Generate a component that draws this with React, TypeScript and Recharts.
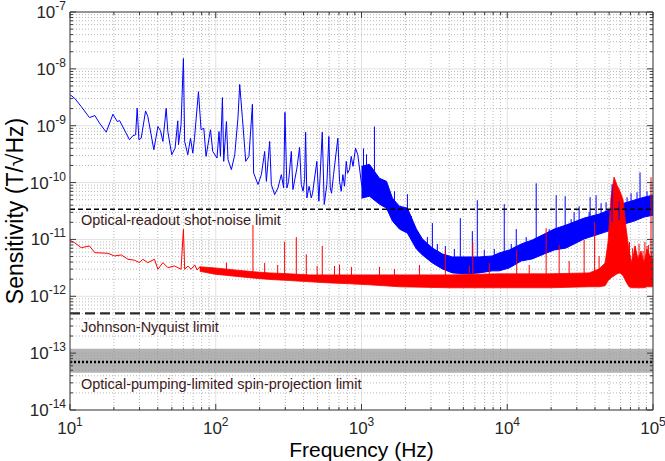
import React from 'react';
import {
  ComposedChart,
  Line,
  Area,
  XAxis,
  YAxis,
  CartesianGrid,
  ReferenceLine,
  ReferenceArea,
} from 'recharts';

// ---------- layout constants ----------
const W = 665;
const H = 461;
const PLOT = { left: 70, right: 653, top: 12, bottom: 410 };
const FONT = '"Liberation Sans", Arial, Helvetica, sans-serif';
const AXIS_COLOR = '#3a3a3a';

// ---------- axes ----------
const xMajor = [10, 100, 1000, 10000, 100000];
const xExpLabels = ['1', '2', '3', '4', '5'];
const yMajor = [1e-14, 1e-13, 1e-12, 1e-11, 1e-10, 1e-9, 1e-8, 1e-7];
const yExpLabels = ['-14', '-13', '-12', '-11', '-10', '-9', '-8', '-7'];
const minorMultipliers = [2, 3, 4, 5, 6, 7, 8, 9];

// ---------- limits ----------
const shotNoiseLimit = 3.4e-11;
const johnsonLimit = 5e-13;
const spinLimit = 7e-14;
const spinBandLow = 4.5e-14;
const spinBandHigh = 1.2e-13;
const limitLabels = [
  'Optical-readout shot-noise limit',
  'Johnson-Nyquist limit',
  'Optical-pumping-limited spin-projection limit',
];

// ---------- blue curve (frequency Hz, sensitivity T/sqrt(Hz)) ----------
const blueTrace: [number, number][] = [
  [10, 3.52e-9], [10.77, 3.03e-9], [11.95, 2.17e-9], [13.6, 1.39e-9], [14.8, 1.51e-9],
  [15.96, 1.106e-9], [17.73, 7.69e-10], [19.7, 1.59e-9], [21.1, 1.185e-9], [21.9, 1.23e-9],
  [25.6, 5.66e-10], [27.0, 6.66e-10], [28.2, 6.93e-10], [28.9, 2.03e-9], [29.7, 5.66e-10],
  [30.8, 6.04e-10], [33.0, 1.82e-9], [34.2, 1.45e-9], [37.6, 3.78e-10], [40.1, 9.68e-10],
  [41.8, 8.14e-10], [43.4, 5.29e-10], [45.7, 2.03e-9], [46.9, 7.91e-10], [49.9, 3.09e-10],
  [52.6, 4.04e-10], [54.9, 1.22e-9], [55.5, 4.63e-10], [57.8, 1.04e-9], [60, 1.52e-8],
  [61.2, 5.29e-10], [64.3, 3.09e-10], [67.1, 6.04e-10], [69.6, 3.3e-10], [71.5, 6.04e-10],
  [76.1, 3.97e-9], [79.3, 8.48e-10], [82.8, 9.04e-10], [85.8, 2.89e-10], [92.0, 8.48e-10],
  [95.4, 3.53e-10], [102, 2.7e-10], [105.3, 7.91e-10], [107.7, 2.89e-10], [111.1, 3.12e-9],
  [113.4, 2.36e-10], [118.4, 1.185e-9], [121.4, 2.53e-10], [128, 1.69e-10], [135, 3.09e-10],
  [142, 1.35e-9], [146, 5.33e-9], [152.4, 1.35e-9], [160.6, 2.36e-10], [169, 2.89e-10],
  [178.4, 2.38e-9], [182, 1.47e-10], [195, 9.23e-11], [205.6, 1.38e-10], [216.6, 3.53e-10],
  [222.5, 1.05e-10], [234.4, 5.29e-10], [240.7, 9.23e-11], [253.6, 6.16e-11], [267.2, 8.04e-11],
  [281.8, 1.38e-10], [292.3, 8.04e-11], [298.4, 1.72e-9], [307.9, 8.04e-11], [316.2, 1.05e-10],
  [330, 3.53e-10], [338.5, 7.54e-11], [360.6, 1.8e-10], [376, 4.15e-10], [386.4, 9.23e-11],
  [397.5, 7.04e-11], [407, 1.14e-10], [413.6, 7.69e-10], [422, 5.37e-11], [436.9, 8.61e-11],
  [452, 5.37e-11], [461.7, 6.49e-11], [476.5, 1.2e-10], [494, 2.36e-10], [510, 4.7e-11],
  [538, 7.69e-10], [555, 4.12e-11], [578.5, 9.23e-11], [597, 6.47e-10], [610.5, 8.04e-11],
  [623, 6.49e-11], [643, 1.38e-10], [688, 6.04e-10], [707, 1.05e-10], [726, 7.04e-11],
  [745, 1.38e-10], [764.7, 8.61e-11], [786, 2.36e-10], [802, 1.46e-10], [828, 1.71e-10],
  [850, 2.89e-10], [874.6, 1.93e-10], [910, 4.04e-10], [943, 3.09e-10], [995, 1.05e-10],
  [1032, 6.16e-11], [1065, 1.2e-10], [1122, 9.23e-11],
];

// blue dense-noise envelope: [frequency, low, high]
const blueBand: [number, number, number][] = [
  [1000, 5.31e-11, 1.93e-10], [1134, 5.76e-11, 2.09e-10], [1328, 4.17e-11, 1.19e-10],
  [1484, 3.55e-11, 1.05e-10], [1631, 2.1e-11, 5.31e-11], [1821, 1.52e-11, 3.85e-11],
  [2066, 1.29e-11, 3.55e-11], [2381, 6.79e-12, 1.52e-11], [2617, 5.33e-12, 1.02e-11],
  [3064, 3.86e-12, 7.07e-12], [3588, 3.03e-12, 5.55e-12], [4202, 2.58e-12, 4.92e-12],
  [5240, 2.48e-12, 4.92e-12], [6430, 2.58e-12, 4.92e-12], [7896, 2.8e-12, 5.12e-12],
  [8813, 2.8e-12, 5.78e-12], [10320, 3.16e-12, 6.52e-12], [12470, 4.18e-12, 8.31e-12],
  [14840, 4.54e-12, 9.76e-12], [17920, 5.55e-12, 1.24e-11], [20990, 6.52e-12, 1.52e-11],
  [25360, 7.07e-12, 1.79e-11], [33690, 1.02e-11, 2.37e-11], [42670, 1.24e-11, 2.79e-11],
  [54070, 1.52e-11, 3.55e-11], [63310, 1.86e-11, 4.34e-11], [74130, 2.1e-11, 4.9e-11],
  [86800, 2.47e-11, 5.53e-11], [100000, 2.67e-11, 5.99e-11],
];

// blue narrow lines: [frequency, foot, peak]
const blueSpikes: [number, number, number][] = [
  [1032, 6e-11, 3.99e-10], [1082, 6e-11, 3.13e-10], [1227, 6e-11, 9.68e-10],
  [1683, 3e-11, 7.04e-11], [2066, 1.8e-11, 6.24e-11], [2200, 1.2e-11, 2.57e-11],
  [2831, 6e-12, 1.1e-11], [3064, 5e-12, 1.94e-11], [3315, 4.5e-12, 8.31e-12],
  [3761, 3.8e-12, 7.66e-12], [4335, 3.5e-12, 6.79e-12], [4765, 3.5e-12, 2.37e-11],
  [5760, 3.5e-12, 1.4e-11], [6232, 3.5e-12, 4.9e-11], [6958, 3.5e-12, 6.52e-12],
  [8147, 3.8e-12, 6.79e-12], [9539, 4e-12, 4.17e-11], [10650, 4.5e-12, 8.31e-12],
  [11530, 4.5e-12, 1.52e-11], [13490, 6e-12, 1.1e-11], [15800, 6e-12, 9.72e-11],
  [19400, 8e-12, 1.52e-11], [21660, 9e-12, 5.99e-11], [24970, 1e-11, 5.76e-11],
  [27440, 1.1e-11, 2.28e-11], [28770, 1.2e-11, 3.02e-11], [31130, 1.3e-11, 3.85e-11],
  [36450, 1.4e-11, 3.02e-11], [37030, 1.5e-11, 5.53e-11], [40700, 1.6e-11, 5.99e-11],
  [44050, 1.7e-11, 4.34e-11], [47650, 1.8e-11, 4.52e-11], [52380, 2e-11, 9.34e-11],
  [58500, 2.2e-11, 4.7e-11], [66370, 2.4e-11, 5.53e-11], [70700, 2.5e-11, 6.49e-11],
  [77700, 2.7e-11, 6.76e-11], [81470, 2.8e-11, 1.51e-10], [90960, 3e-11, 7.04e-11],
];

// ---------- red curve ----------
const redTrace: [number, number][] = [
  [10, 9.64e-12], [10.77, 8.75e-12], [11.95, 7.16e-12], [13.6, 7.66e-12], [14.8, 5.85e-12],
  [18.2, 5.71e-12], [20.2, 5.12e-12], [22.5, 5.33e-12], [25.0, 4.48e-12], [27.7, 4.31e-12],
  [30.0, 3.91e-12], [31.6, 4.48e-12], [34.2, 3.91e-12], [38.0, 4.48e-12], [40.1, 2.99e-12],
  [43.4, 3.91e-12], [46.9, 3.19e-12], [52.1, 3.42e-12], [57.8, 2.99e-12], [60, 1.5e-11],
  [61.2, 2.99e-12], [64.5, 3.4e-12], [67.7, 2.99e-12], [71.8, 3.56e-12], [74.5, 2.9e-12],
  [77.7, 3.3e-12], [80.5, 2.85e-12],
];

const redBand: [number, number, number][] = [
  [77.7, 2.75e-12, 3.3e-12], [98.4, 2.45e-12, 3.16e-12],
  [135, 2.25e-12, 2.91e-12], [185, 2.08e-12, 2.69e-12], [234.4, 1.98e-12, 2.58e-12],
  [321, 1.89e-12, 2.48e-12], [440, 1.8e-12, 2.38e-12], [604, 1.72e-12, 2.38e-12],
  [828, 1.66e-12, 2.38e-12], [1134, 1.59e-12, 2.38e-12], [1821, 1.47e-12, 2.38e-12],
  [4005, 1.41e-12, 2.38e-12], [8813, 1.41e-12, 2.48e-12], [19400, 1.41e-12, 2.48e-12],
  [36450, 1.47e-12, 2.58e-12], [42670, 1.47e-12, 3.03e-12], [46900, 1.53e-12, 3.86e-12],
  [49180, 1.87e-12, 9e-12], [51540, 2.11e-12, 5.5e-11], [54070, 2.29e-12, 1.25e-10],
  [56660, 2.48e-12, 9e-11], [59430, 2.58e-12, 7e-11], [62300, 2.3e-12, 5e-11],
  [65330, 1.8e-12, 1.6e-11], [68490, 1.47e-12, 6.26e-12], [71780, 1.41e-12, 3.86e-12],
  [75300, 1.41e-12, 7.66e-12], [78920, 1.41e-12, 4.54e-12], [82700, 1.41e-12, 6.26e-12],
  [86800, 1.41e-12, 3.86e-12], [90960, 1.47e-12, 6.79e-12], [95400, 1.47e-12, 5.12e-12],
  [100000, 1.47e-12, 4.54e-12],
];

const redSpikes: [number, number, number][] = [
  [118.4, 2.6e-12, 3.91e-12], [180, 2.3e-12, 1.79e-11], [216.6, 2.3e-12, 3.86e-12],
  [266, 2.2e-12, 3.56e-12], [297, 2.2e-12, 9.11e-12], [357, 2.2e-12, 1.1e-11],
  [418, 2.1e-12, 5.48e-12], [496, 2e-12, 3.42e-12], [538, 2e-12, 7.66e-12],
  [653, 2e-12, 3.42e-12], [707, 2e-12, 3.6e-12], [853, 1.9e-12, 3.29e-12],
  [1328, 1.9e-12, 3.29e-12], [1683, 1.9e-12, 3.03e-12], [2497, 1.9e-12, 3.56e-12],
  [3761, 2e-12, 6.52e-12], [5493, 1.9e-12, 3.42e-12], [5803, 2e-12, 9.01e-12],
  [7530, 1.9e-12, 3.86e-12], [11610, 2e-12, 6.52e-12], [14150, 1.9e-12, 3.56e-12],
  [18490, 2e-12, 1.58e-11], [22700, 2e-12, 7.98e-12], [26580, 2e-12, 4.18e-12],
  [33690, 2e-12, 9.76e-12], [39760, 2.2e-12, 2.02e-11], [42670, 2.2e-12, 5.12e-12],
  [69000, 2e-12, 9e-12], [72500, 2e-12, 7e-12], [75300, 2e-12, 7.66e-12],
  [80200, 2e-12, 8.31e-12], [85400, 2e-12, 6.26e-12], [88000, 2e-12, 9e-12],
  [90960, 2e-12, 7.66e-12], [93000, 2e-12, 8e-12], [96900, 2e-12, 1.24e-10],
  [98000, 2e-12, 6e-12],
];

// ---------- build series tables ----------
const traceData = (t: [number, number][]) => t.map(([f, v]) => ({ f, v }));
const bandData = (b: [number, number, number][]) => b.map(([f, lo, hi]) => ({ f, r: [lo, hi] }));
const spikeData = (s: [number, number, number][]) => {
  const out: { f: number; v: number | null }[] = [];
  s.forEach(([f, foot, peak]) => {
    out.push({ f, v: foot }, { f, v: peak }, { f, v: null });
  });
  return out;
};

const blueLineData = traceData(blueTrace);
const blueBandData = bandData(blueBand);
const blueSpikeData = spikeData(blueSpikes);
const redLineData = traceData(redTrace);
const redBandData = bandData(redBand);
const redSpikeData = spikeData(redSpikes);

const withMinors = (majors: number[]) => {
  const out: number[] = [];
  majors.forEach((m, i) => {
    out.push(m);
    if (i < majors.length - 1) minorMultipliers.forEach((k) => out.push(m * k));
  });
  return out;
};
const minorsOf = (majors: number[]) => withMinors(majors).filter((v) => !majors.includes(v));

const xAllTicks = withMinors(xMajor);
const yAllTicks = withMinors(yMajor);
const xMinor = minorsOf(xMajor);
const yMinor = minorsOf(yMajor);

const majorIndex = (majors: number[], v: number) =>
  majors.findIndex((m) => Math.abs(m - v) / m < 1e-6);

// ---------- custom ticks (MATLAB-style inward ticks on all four sides) ----------
const XTick = (props: any) => {
  const { x, payload } = props;
  const idx = majorIndex(xMajor, payload.value);
  const len = idx >= 0 ? 6 : 3;
  return (
    <g>
      <line x1={x} x2={x} y1={PLOT.bottom} y2={PLOT.bottom - len} stroke={AXIS_COLOR} strokeWidth={1} />
      <line x1={x} x2={x} y1={PLOT.top} y2={PLOT.top + len} stroke={AXIS_COLOR} strokeWidth={1} />
      {idx >= 0 && (
        <text x={x} y={PLOT.bottom + 24} textAnchor="middle" fontSize={17} fill="#262626" fontFamily={FONT}>
          10
          <tspan dy={-8} fontSize={12}>
            {xExpLabels[idx]}
          </tspan>
        </text>
      )}
    </g>
  );
};

const YTick = (props: any) => {
  const { y, payload } = props;
  const idx = majorIndex(yMajor, payload.value);
  const len = idx >= 0 ? 6 : 3;
  return (
    <g>
      <line x1={PLOT.left} x2={PLOT.left + len} y1={y} y2={y} stroke={AXIS_COLOR} strokeWidth={1} />
      <line x1={PLOT.right} x2={PLOT.right - len} y1={y} y2={y} stroke={AXIS_COLOR} strokeWidth={1} />
      {idx >= 0 && (
        <text x={PLOT.left - 4} y={y + 6} textAnchor="end" fontSize={17} fill="#262626" fontFamily={FONT}>
          10
          <tspan dy={-8} fontSize={12}>
            {yExpLabels[idx]}
          </tspan>
        </text>
      )}
    </g>
  );
};

const limitLabel = (text: string, dy: number) => (props: any) => {
  const vb = props?.viewBox || {};
  return (
    <text x={(vb.x ?? PLOT.left) + 11} y={(vb.y ?? 0) + dy} fontSize={14.5} fill="#3d1b1b" fontFamily={FONT}>
      {text}
    </text>
  );
};

export default function App() {
  return (
    <div style={{ position: 'absolute', left: 0, top: 0, width: W, height: H, background: '#fff', fontFamily: FONT }}>
      <ComposedChart width={W} height={H} margin={{ top: PLOT.top, right: W - PLOT.right, bottom: 0, left: 0 }}>
        <CartesianGrid stroke="#e2e2e2" strokeWidth={1} horizontalValues={yMajor} verticalValues={xMajor} />
        <CartesianGrid stroke="#b8b8b8" strokeWidth={1} strokeDasharray="1 2" horizontalValues={yMinor} verticalValues={xMinor} />
        <XAxis
          type="number"
          dataKey="f"
          scale="log"
          domain={[10, 100000]}
          allowDataOverflow
          ticks={xAllTicks}
          interval={0}
          tick={<XTick />}
          tickLine={false}
          axisLine={{ stroke: AXIS_COLOR }}
          height={H - PLOT.bottom}
          label={{ value: 'Frequency (Hz)', position: 'insideBottom', offset: 4, style: { fontSize: 21, fill: '#000', fontFamily: FONT } }}
        />
        <YAxis
          type="number"
          scale="log"
          domain={[1e-14, 1e-7]}
          allowDataOverflow
          ticks={yAllTicks}
          interval={0}
          tick={<YTick />}
          tickLine={false}
          axisLine={{ stroke: AXIS_COLOR }}
          width={PLOT.left}
          label={{ value: 'Sensitivity (T/\u221AHz)', angle: -90, position: 'insideLeft', offset: 15, style: { fontSize: 23, fill: '#000', textAnchor: 'middle', fontFamily: FONT } }}
        />
        <ReferenceArea y1={spinBandLow} y2={spinBandHigh} fill="#9a9a9a" fillOpacity={0.75} stroke="none" ifOverflow="hidden" />

        <Line data={blueLineData} dataKey="v" stroke="#0000ff" strokeWidth={1} dot={false} isAnimationActive={false} type="linear" />
        <Area data={blueBandData} dataKey="r" stroke="#0000ff" strokeWidth={1} fill="#0000ff" fillOpacity={1} dot={false} isAnimationActive={false} type="linear" />
        <Line data={blueSpikeData} dataKey="v" stroke="#0000ff" strokeWidth={1} dot={false} isAnimationActive={false} type="linear" />

        <Line data={redLineData} dataKey="v" stroke="#ff0000" strokeWidth={1} dot={false} isAnimationActive={false} type="linear" />
        <Area data={redBandData} dataKey="r" stroke="#ff0000" strokeWidth={0.8} fill="#ff0000" fillOpacity={1} dot={false} isAnimationActive={false} type="linear" />
        <Line data={redSpikeData} dataKey="v" stroke="#ff0000" strokeWidth={1} dot={false} isAnimationActive={false} type="linear" />

        <ReferenceLine y={shotNoiseLimit} stroke="#000" strokeWidth={1.6} strokeDasharray="5 3" label={limitLabel(limitLabels[0], 15.6)} />
        <ReferenceLine y={johnsonLimit} stroke="#2a2a2a" strokeWidth={2.2} strokeDasharray="10 5" label={limitLabel(limitLabels[1], 18.4)} />
        <ReferenceLine y={spinLimit} stroke="#000" strokeWidth={2.6} strokeDasharray="2 2" label={limitLabel(limitLabels[2], 26.6)} />

        <ReferenceLine y={1e-7} stroke={AXIS_COLOR} strokeWidth={1} />
        <ReferenceLine x={100000} stroke={AXIS_COLOR} strokeWidth={1} />
      </ComposedChart>
    </div>
  );
}
